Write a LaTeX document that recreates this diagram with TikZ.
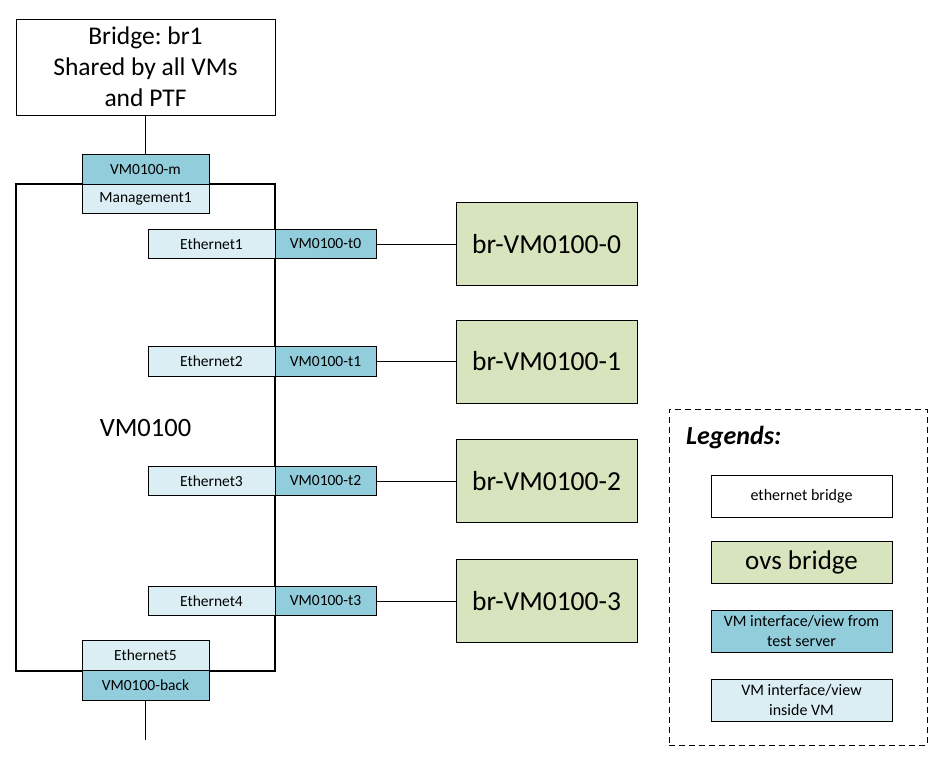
\documentclass[tikz,border=0pt]{standalone}
\usepackage{fontspec}
\setmainfont{Carlito}
\frenchspacing
\definecolor{tapblue}{RGB}{146,205,220}
\definecolor{vmblue}{RGB}{218,238,243}
\definecolor{ovsgreen}{RGB}{215,228,189}
\tikzset{
  ethbr/.style={draw, fill=white, line width=0.8pt, inner sep=0pt, align=center},
  ovsbr/.style={draw, fill=ovsgreen, line width=0.8pt, inner sep=0pt, minimum width=181pt, minimum height=83pt, font=\fontsize{27.5}{32}\selectfont},
  tapif/.style={draw, fill=tapblue, line width=0.8pt, inner sep=0pt, minimum height=29.5pt, font=\fontsize{15.5}{18}\selectfont},
  vmif/.style={draw, fill=vmblue, line width=0.8pt, inner sep=0pt, minimum height=29.5pt, font=\fontsize{15.5}{18}\selectfont},
  wire/.style={line width=0.8pt}
}
\begin{document}
\begin{tikzpicture}[x=1pt,y=1pt,yscale=-1,xscale=1]
        \useasboundingbox (0,0) rectangle (941,764);
        % Bridge br1
        \node [ethbr, minimum width=259pt, minimum height=96pt, font=\fontsize{25.5}{31}\selectfont] (br1) at (145.5,67) {Bridge: br1\\Shared by all VMs\\and PTF};
        % VM box
        \node [draw, line width=2.4pt, minimum width=259pt, minimum height=487pt, inner sep=0pt, font=\fontsize{26.5}{30}\selectfont] (vm) at (145.5,427.5) {VM0100};
        % Management interface
        \node [tapif, minimum width=127pt] (tapm) at (145.5,169.5) {VM0100-m};
        \node [vmif, minimum width=127pt] (mgmt) at (145.5,199) {Management1};
        \draw [wire] (br1) -- (tapm);
        % Front ports
        \node [vmif, minimum width=127pt] (eth1) at (211.5,244) {Ethernet1};
        \node [tapif, minimum width=101pt] (tap0) at (325.5,244) {VM0100-t0};
        \node [ovsbr] (ovs0) at (546.5,244) {br-VM0100-0};
        \draw [wire] (tap0) -- (ovs0);

        \node [vmif, minimum width=127pt] (eth2) at (211.5,361.5) {Ethernet2};
        \node [tapif, minimum width=101pt] (tap1) at (325.5,361.5) {VM0100-t1};
        \node [ovsbr] (ovs1) at (546.5,361.5) {br-VM0100-1};
        \draw [wire] (tap1) -- (ovs1);

        \node [vmif, minimum width=127pt] (eth3) at (211.5,481) {Ethernet3};
        \node [tapif, minimum width=101pt] (tap2) at (325.5,481) {VM0100-t2};
        \node [ovsbr] (ovs2) at (546.5,481) {br-VM0100-2};
        \draw [wire] (tap2) -- (ovs2);

        \node [vmif, minimum width=127pt] (eth4) at (211.5,601) {Ethernet4};
        \node [tapif, minimum width=101pt] (tap3) at (325.5,601) {VM0100-t3};
        \node [ovsbr] (ovs3) at (546.5,601) {br-VM0100-3};
        \draw [wire] (tap3) -- (ovs3);
        % Backplane interface
        \node [vmif, minimum width=127pt, minimum height=31pt] (eth5) at (145.5,655.5) {Ethernet5};
        \node [tapif, minimum width=127pt] (tapback) at (145.5,685.5) {VM0100-back};
        \coordinate (backend) at (145.5,740);
        \draw [wire] (tapback) -- (backend);

        % Legends
        \node [draw, dash pattern=on 6pt off 4pt, line width=0.8pt, minimum width=258pt, minimum height=336pt, inner sep=0pt] (legend) at (798,577) {};
        \node [anchor=west, inner sep=0pt, font=\fontsize{26}{30}\selectfont\bfseries\itshape] (legtitle) at (686,438) {Legends:};
        \node [ethbr, minimum width=181pt, minimum height=42pt, font=\fontsize{16}{19}\selectfont] (legeth) at (801.5,496) {ethernet bridge};
        \node [ovsbr, minimum height=42pt, font=\fontsize{27}{32}\selectfont] (legovs) at (801.5,562) {ovs bridge};
        \node [tapif, minimum width=181pt, minimum height=42pt, align=center, font=\fontsize{16}{20}\selectfont] (legtap) at (801.5,631) {VM interface/view from\\test server};
        \node [vmif, minimum width=181pt, minimum height=42pt, align=center, font=\fontsize{16}{20}\selectfont] (legvm) at (801.5,700) {VM interface/view\\inside VM};
\end{tikzpicture}
\end{document}
